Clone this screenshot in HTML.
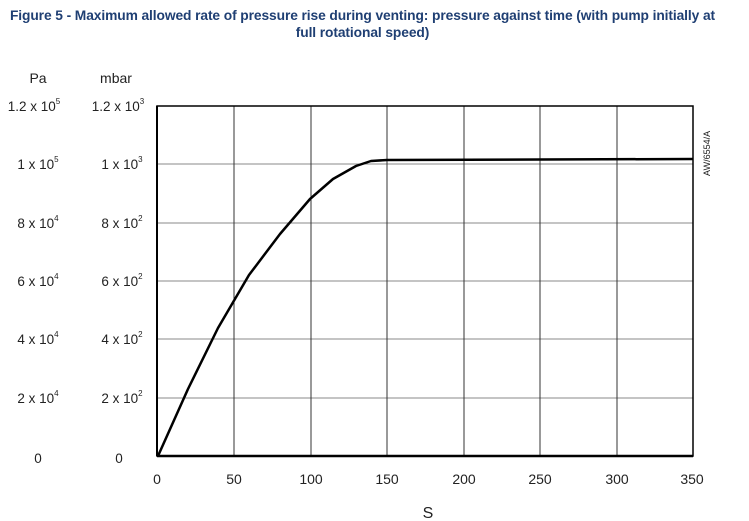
<!DOCTYPE html>
<html><head><style>
body{margin:0;background:#fff;width:749px;height:521px;overflow:hidden;font-family:"Liberation Sans",sans-serif}
.t{position:absolute;left:-12px;width:749px;text-align:center;color:#1f3f73;font-weight:bold;font-size:13.8px;letter-spacing:-0.1px;line-height:17px;top:7px;white-space:nowrap}
</style></head><body>
<div class="t">Figure 5 - Maximum allowed rate of pressure rise during venting: pressure against time (with pump initially at<br>full rotational speed)</div>
<svg width="749" height="521" style="position:absolute;left:0;top:0" font-family="Liberation Sans, sans-serif" font-size="14" fill="#222">
<g stroke="#888" stroke-width="1">
<line x1="157" y1="164" x2="693" y2="164"/><line x1="157" y1="223" x2="693" y2="223"/>
<line x1="157" y1="281" x2="693" y2="281"/><line x1="157" y1="339" x2="693" y2="339"/>
<line x1="157" y1="398" x2="693" y2="398"/>
</g>
<g stroke="#333" stroke-width="1">
<line x1="234" y1="106" x2="234" y2="456"/><line x1="311" y1="106" x2="311" y2="456"/>
<line x1="387" y1="106" x2="387" y2="456"/><line x1="464" y1="106" x2="464" y2="456"/>
<line x1="540" y1="106" x2="540" y2="456"/><line x1="617" y1="106" x2="617" y2="456"/>
</g>
<rect x="157" y="106" width="536" height="350" fill="none" stroke="#000" stroke-width="1.5"/>
<line x1="157" y1="456" x2="693" y2="456" stroke="#000" stroke-width="2.5"/>
<line x1="157" y1="106" x2="157" y2="456" stroke="#000" stroke-width="2"/>
<polyline fill="none" stroke="#000" stroke-width="2.5" stroke-linejoin="round" points="158,456 188,389 218,328 249,275 280,234 310,199 333,179 356,166 371,161 387,160 693,159"/>
<g text-anchor="middle">
<text x="157" y="484">0</text><text x="234" y="484">50</text><text x="311" y="484">100</text>
<text x="387" y="484">150</text><text x="464" y="484">200</text><text x="540" y="484">250</text>
<text x="617" y="484">300</text><text x="692" y="484">350</text>
<text x="428" y="518" font-size="16">S</text>
<text x="38" y="83">Pa</text><text x="116" y="83">mbar</text>
</g>
<g text-anchor="middle" font-size="13.5">
<text x="34" y="111">1.2 x 10<tspan font-size="8" dy="-7">5</tspan></text>
<text x="118" y="111">1.2 x 10<tspan font-size="8" dy="-7">3</tspan></text>
<text x="38" y="169">1 x 10<tspan font-size="8" dy="-7">5</tspan></text>
<text x="122" y="169">1 x 10<tspan font-size="8" dy="-7">3</tspan></text>
<text x="38" y="228">8 x 10<tspan font-size="8" dy="-7">4</tspan></text>
<text x="122" y="228">8 x 10<tspan font-size="8" dy="-7">2</tspan></text>
<text x="38" y="286">6 x 10<tspan font-size="8" dy="-7">4</tspan></text>
<text x="122" y="286">6 x 10<tspan font-size="8" dy="-7">2</tspan></text>
<text x="38" y="344">4 x 10<tspan font-size="8" dy="-7">4</tspan></text>
<text x="122" y="344">4 x 10<tspan font-size="8" dy="-7">2</tspan></text>
<text x="38" y="403">2 x 10<tspan font-size="8" dy="-7">4</tspan></text>
<text x="122" y="403">2 x 10<tspan font-size="8" dy="-7">2</tspan></text>
<text x="38" y="463">0</text><text x="119" y="463">0</text>
</g>
<text x="0" y="0" font-size="9" transform="translate(710,176) rotate(-90)">AW/6554/A</text>
</svg>
</body></html>
